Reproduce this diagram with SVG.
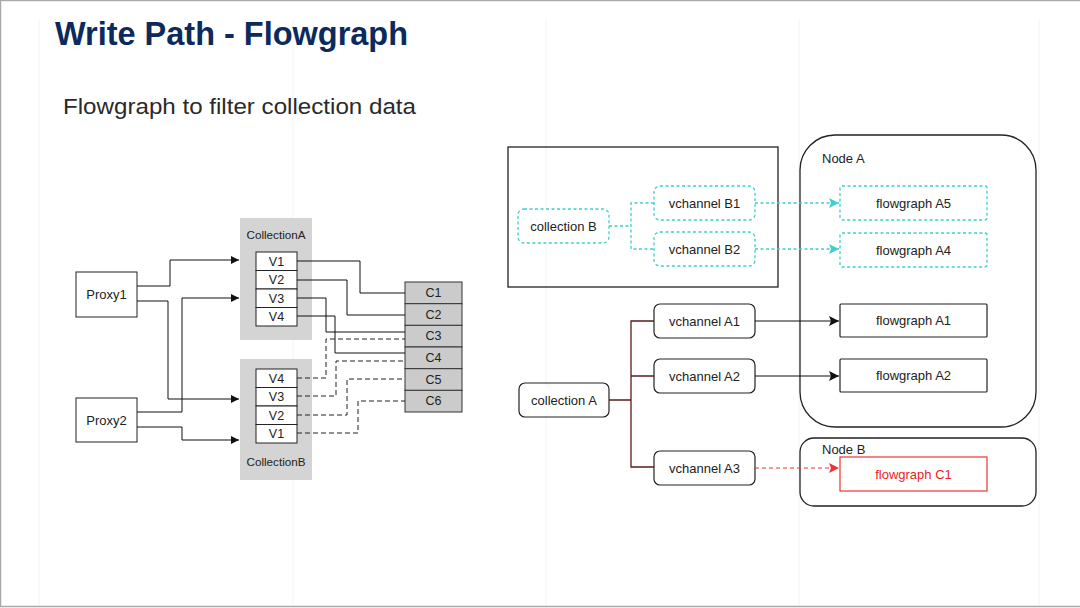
<svg xmlns="http://www.w3.org/2000/svg" width="1080" height="608" viewBox="0 0 1080 608">
<style>
text{font-family:"Liberation Sans",Arial,sans-serif;fill:#222}
.t13{font-size:13px;text-anchor:middle}
.t12{font-size:12.5px;text-anchor:middle}
.box{fill:#fff;stroke:#222;stroke-width:1}
.cbox{fill:#cbcbcb;stroke:#333;stroke-width:1}
.cont{fill:#d4d4d4}
.ln{fill:none;stroke:#111;stroke-width:1}
.dl{fill:none;stroke:#222;stroke-width:1;stroke-dasharray:5,3}
.cy{fill:#fff;stroke:#3fcfcc;stroke-width:1.3;stroke-dasharray:3,2.5}
.cyl{fill:none;stroke:#3fcfcc;stroke-width:1.3;stroke-dasharray:3,2.5}
.rb{fill:#fff;stroke:#222;stroke-width:1.2}
.mr{fill:none;stroke:#5a1c1c;stroke-width:1.3}
.grid{stroke:#f0f3f8;stroke-width:1}
</style>
<defs>
<marker id="ab" viewBox="0 0 10 10" refX="10" refY="5" markerWidth="8" markerHeight="8" markerUnits="userSpaceOnUse" orient="auto"><path d="M0 0L10 5L0 10z" fill="#111"/></marker>
<marker id="abk" viewBox="0 0 10 10" refX="10" refY="5" markerWidth="10" markerHeight="10" markerUnits="userSpaceOnUse" orient="auto"><path d="M0 0L10 5L0 10L2 5z" fill="#111"/></marker>
<marker id="acy" viewBox="0 0 10 10" refX="10" refY="5" markerWidth="10" markerHeight="10" markerUnits="userSpaceOnUse" orient="auto"><path d="M0 0L10 5L0 10L2 5z" fill="#3fcfcc"/></marker>
<marker id="ard" viewBox="0 0 10 10" refX="10" refY="5" markerWidth="10" markerHeight="10" markerUnits="userSpaceOnUse" orient="auto"><path d="M0 0L10 5L0 10L2 5z" fill="#ee3333"/></marker>
</defs>
<rect x="0" y="0" width="1080" height="608" fill="#fff"/>
<g id="background-grid">
<line class="grid" x1="39" y1="19" x2="39" y2="607"/>
<line class="grid" x1="293" y1="19" x2="293" y2="607"/>
<line class="grid" x1="546" y1="19" x2="546" y2="607"/>
<line class="grid" x1="799" y1="19" x2="799" y2="607"/>
<line class="grid" x1="1039" y1="19" x2="1039" y2="607"/>
</g>
<path d="M0.5 607V0.5H1080M0 606.5H1080" fill="none" stroke="#aaa" stroke-width="1.5"/>
<text x="55" y="45" style="font-size:33px;font-weight:bold;fill:#0c2a5b" textLength="353" lengthAdjust="spacingAndGlyphs">Write Path - Flowgraph</text>
<text x="63" y="114" style="font-size:21.5px;fill:#2a2a2a" textLength="353" lengthAdjust="spacingAndGlyphs">Flowgraph to filter collection data</text>

<!-- Left diagram -->
<g id="collectionA">
<rect class="cont" x="240" y="218" width="72" height="122"/>
<text x="276" y="239" style="font-size:11.5px;text-anchor:middle" textLength="59" lengthAdjust="spacingAndGlyphs">CollectionA</text>
<rect class="box" x="256" y="252" width="41" height="18.5"/><text class="t12" x="276.5" y="265.5">V1</text>
<rect class="box" x="256" y="270.5" width="41" height="18.5"/><text class="t12" x="276.5" y="284">V2</text>
<rect class="box" x="256" y="289" width="41" height="18.5"/><text class="t12" x="276.5" y="302.5">V3</text>
<rect class="box" x="256" y="307.5" width="41" height="18.5"/><text class="t12" x="276.5" y="321">V4</text>
</g>
<g id="collectionB">
<rect class="cont" x="240" y="359" width="72" height="121"/>
<text x="276" y="466" style="font-size:11.5px;text-anchor:middle" textLength="59" lengthAdjust="spacingAndGlyphs">CollectionB</text>
<rect class="box" x="256" y="369" width="41" height="18.5"/><text class="t12" x="276.5" y="382.5">V4</text>
<rect class="box" x="256" y="387.5" width="41" height="18.5"/><text class="t12" x="276.5" y="401">V3</text>
<rect class="box" x="256" y="406" width="41" height="18.5"/><text class="t12" x="276.5" y="419.5">V2</text>
<rect class="box" x="256" y="424.5" width="41" height="18.5"/><text class="t12" x="276.5" y="438">V1</text>
</g>
<g id="proxy1"><rect class="box" x="76" y="272" width="61" height="45"/><text class="t13" x="106.5" y="299">Proxy1</text></g>
<g id="proxy2"><rect class="box" x="76" y="398" width="61" height="44"/><text class="t13" x="106.5" y="425">Proxy2</text></g>
<g id="channels">
<rect class="cbox" x="405" y="282" width="57" height="21.7"/><text class="t12" x="433.5" y="297">C1</text>
<rect class="cbox" x="405" y="303.7" width="57" height="21.7"/><text class="t12" x="433.5" y="318.7">C2</text>
<rect class="cbox" x="405" y="325.3" width="57" height="21.7"/><text class="t12" x="433.5" y="340.3">C3</text>
<rect class="cbox" x="405" y="347" width="57" height="21.7"/><text class="t12" x="433.5" y="362">C4</text>
<rect class="cbox" x="405" y="368.7" width="57" height="21.7"/><text class="t12" x="433.5" y="383.7">C5</text>
<rect class="cbox" x="405" y="390.3" width="57" height="21.7"/><text class="t12" x="433.5" y="405.3">C6</text>
</g>
<g id="left-connectors">
<path class="ln" d="M137 286H170V260H239" marker-end="url(#ab)"/>
<path class="ln" d="M137 301H168V399H239" marker-end="url(#ab)"/>
<path class="ln" d="M137 412H182V298H239" marker-end="url(#ab)"/>
<path class="ln" d="M137 427H182V440H239" marker-end="url(#ab)"/>
<path class="ln" d="M297 261H360V293H405"/>
<path class="ln" d="M297 280H347V315H405"/>
<path class="ln" d="M297 298H326V332H405"/>
<path class="ln" d="M297 316H335V353H405"/>
<path class="dl" d="M297 378H326V339H405"/>
<path class="dl" d="M297 396H336V361H405"/>
<path class="dl" d="M297 415H347V379H405"/>
<path class="dl" d="M297 433H358V401H405"/>
</g>

<!-- Right diagram -->
<g id="groupB"><rect x="508" y="147" width="270" height="140" fill="none" stroke="#222" stroke-width="1.3"/></g>
<g id="nodeA"><rect x="800" y="135" width="236" height="292" rx="35" fill="none" stroke="#222" stroke-width="1.3"/><text x="822" y="163" style="font-size:13px">Node A</text></g>
<g id="nodeB"><rect x="800" y="438" width="236" height="68" rx="14" fill="none" stroke="#222" stroke-width="1.3"/><text x="822" y="454" style="font-size:13px">Node B</text></g>
<g id="collection-b"><rect class="cy" x="518" y="209" width="91" height="34" rx="6"/><text class="t13" x="563.5" y="230.5">collection B</text></g>
<g id="vchannel-b1"><rect class="cy" x="654" y="186" width="101" height="34" rx="6"/><text class="t13" x="704.5" y="207.5">vchannel B1</text></g>
<g id="vchannel-b2"><rect class="cy" x="654" y="232" width="101" height="34" rx="6"/><text class="t13" x="704.5" y="253.5">vchannel B2</text></g>
<g id="flowgraph-a5"><rect class="cy" x="840" y="186" width="147" height="34" rx="2"/><text class="t13" x="913.5" y="207.5">flowgraph A5</text></g>
<g id="flowgraph-a4"><rect class="cy" x="840" y="233" width="147" height="34" rx="2"/><text class="t13" x="913.5" y="254.5">flowgraph A4</text></g>
<g id="collection-a"><rect class="rb" x="519" y="383" width="90" height="34" rx="6"/><text class="t13" x="564" y="404.5">collection A</text></g>
<g id="vchannel-a1"><rect class="rb" x="654" y="304" width="101" height="34" rx="6"/><text class="t13" x="704.5" y="325.5">vchannel A1</text></g>
<g id="vchannel-a2"><rect class="rb" x="654" y="359" width="101" height="34" rx="6"/><text class="t13" x="704.5" y="380.5">vchannel A2</text></g>
<g id="vchannel-a3"><rect class="rb" x="654" y="451" width="101" height="34" rx="6"/><text class="t13" x="704.5" y="472.5">vchannel A3</text></g>
<g id="flowgraph-a1"><rect class="rb" x="840" y="304" width="147" height="33" rx="1"/><text class="t13" x="913.5" y="325">flowgraph A1</text></g>
<g id="flowgraph-a2"><rect class="rb" x="840" y="359" width="147" height="33" rx="1"/><text class="t13" x="913.5" y="380">flowgraph A2</text></g>
<g id="flowgraph-c1"><rect x="840" y="457" width="147" height="34" fill="#fff" stroke="#ee3333" stroke-width="1.2"/><text class="t13" x="913.5" y="478.5" style="fill:#ee2222">flowgraph C1</text></g>
<g id="right-connectors">
<path class="cyl" d="M609 226H631M654 203H631V249H654"/>
<path class="cyl" d="M755 203H839" marker-end="url(#acy)"/>
<path class="cyl" d="M755 249H839" marker-end="url(#acy)"/>
<path class="mr" d="M609 400H631M654 321H631V467H654M631 376H654"/>
<path class="ln" d="M755 321H839" stroke-width="1.2" marker-end="url(#abk)"/>
<path class="ln" d="M755 376H839" stroke-width="1.2" marker-end="url(#abk)"/>
<path d="M755 468H839" fill="none" stroke="#ee3333" stroke-width="1.2" stroke-dasharray="4,3" marker-end="url(#ard)"/>
</g>
</svg>
